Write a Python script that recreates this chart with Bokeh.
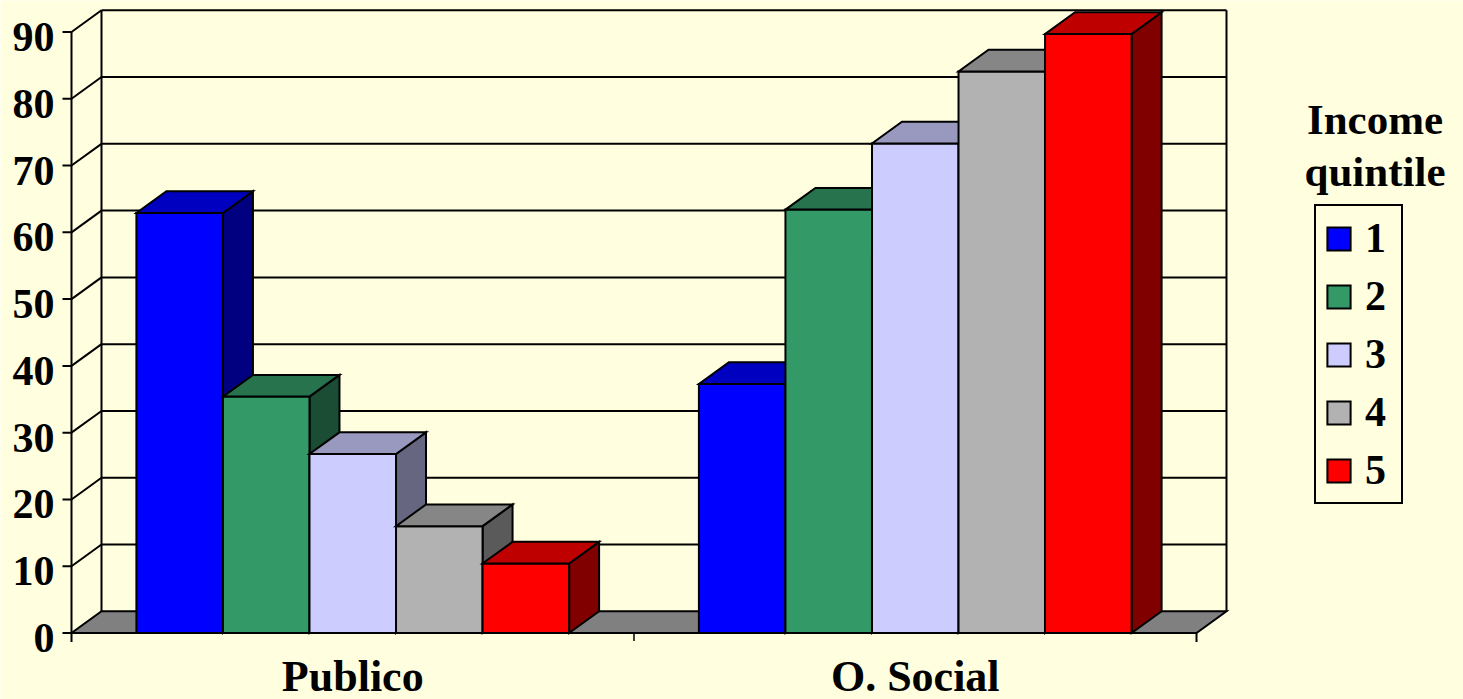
from bokeh.plotting import figure
from bokeh.models import Range1d, Legend, LegendItem, Label
from bokeh.core.properties import value
from bokeh.embed import file_html
from bokeh.resources import INLINE

# ---------------- data ----------------
categories = ["Publico", "O. Social"]
quintiles = ["1", "2", "3", "4", "5"]
q1 = [62.9, 37.3]
q2 = [35.4, 63.4]
q3 = [26.8, 73.3]
q4 = [16.0, 84.1]
q5 = [10.4, 89.7]
series = [q1, q2, q3, q4, q5]
y_ticks = [0, 10, 20, 30, 40, 50, 60, 70, 80, 90]
legend_title = ["Income", "quintile"]

# ---------------- style ----------------
BG = "#FFFFE0"
front_colors = ["#0000FF", "#339966", "#CCCCFF", "#B2B2B2", "#FF0000"]
top_colors = ["#0000C0", "#26734D", "#9999BF", "#868686", "#BF0000"]
side_colors = ["#000080", "#1A4D33", "#666680", "#5A5A5A", "#800000"]
FLOOR = "#808080"
FONT = "Liberation Serif"

W, H = 1463, 699
X0PX, Y0PX = 71.0, 632.5      # pixel of (x=0, y=0)
CATPX = 562.5                 # pixels per category
UNITPX = 6.678                # pixels per value unit
DEPTH_X_PX, DEPTH_Y_PX = 30.0, 21.7
GAP = 1.5                     # gap width relative to bar width
TXT_SHIFT = 13                # renderer baseline correction (px)

DX = DEPTH_X_PX / CATPX
DY = DEPTH_Y_PX / UNITPX
n_cat = len(categories)
n_ser = len(series)
bw = 1.0 / (n_ser + GAP)
ymax = y_ticks[-1]

p = figure(width=W, height=H, output_backend="svg", toolbar_location=None,
           x_range=Range1d(-X0PX / CATPX, (W - X0PX) / CATPX),
           y_range=Range1d(-(H - Y0PX) / UNITPX, Y0PX / UNITPX),
           min_border=0, min_border_left=0, min_border_right=0,
           min_border_top=0, min_border_bottom=0)
p.axis.visible = False
p.grid.visible = False
p.outline_line_color = None
p.background_fill_color = BG
p.border_fill_color = BG

LW = 2

# back wall: gridlines + frame
p.segment(x0=[DX] * (len(y_ticks) - 1), x1=[n_cat + DX] * (len(y_ticks) - 1),
          y0=[t + DY for t in y_ticks[1:]], y1=[t + DY for t in y_ticks[1:]],
          line_color="black", line_width=LW)
p.segment(x0=[DX, n_cat + DX], x1=[DX, n_cat + DX],
          y0=[DY, DY], y1=[ymax + DY, ymax + DY], line_color="black", line_width=LW)
# side wall diagonals
p.segment(x0=[0] * (len(y_ticks) - 1), x1=[DX] * (len(y_ticks) - 1),
          y0=y_ticks[1:], y1=[t + DY for t in y_ticks[1:]],
          line_color="black", line_width=LW)

# floor
p.patch(x=[0, n_cat, n_cat + DX, DX], y=[0, 0, DY, DY],
        fill_color=FLOOR, line_color="black", line_width=LW, line_join="miter")

# bars
front_renderers = []
for i, vals in enumerate(series):
    lefts = [c + GAP / 2 * bw + i * bw for c in range(n_cat)]
    rights = [l + bw for l in lefts]
    p.patches(xs=[[r, r + DX, r + DX, r] for r in rights],
              ys=[[0, DY, v + DY, v] for v in vals],
              fill_color=side_colors[i], line_color="black", line_width=LW, line_join="miter")
    fr = p.quad(left=lefts, right=rights, bottom=[0] * n_cat, top=vals,
                fill_color=front_colors[i], line_color="black", line_width=LW, line_join="miter")
    front_renderers.append(fr)
    p.patches(xs=[[l, r, r + DX, l + DX] for l, r in zip(lefts, rights)],
              ys=[[v, v, v + DY, v + DY] for v in vals],
              fill_color=top_colors[i], line_color="black", line_width=LW, line_join="miter")

# value axis
p.segment(x0=[0], x1=[0], y0=[0], y1=[ymax], line_color="black", line_width=LW)
p.segment(x0=[-9 / CATPX] * len(y_ticks), x1=[0] * len(y_ticks),
          y0=y_ticks, y1=y_ticks, line_color="black", line_width=LW)
p.text(x=[0] * len(y_ticks), y=y_ticks, text=[str(t) for t in y_ticks],
       x_offset=-17, y_offset=18 - TXT_SHIFT, text_align="right", text_baseline="alphabetic",
       text_font=value(FONT), text_font_style="bold", text_font_size="42px",
       text_color="black")

# category axis
p.segment(x0=[0, n_cat], x1=[0, n_cat], y0=[0, 0], y1=[-9 / UNITPX] * 2,
          line_color="black", line_width=LW)
p.segment(x0=list(range(1, n_cat)), x1=list(range(1, n_cat)),
          y0=[0] * (n_cat - 1), y1=[-8 / UNITPX] * (n_cat - 1),
          line_color="black", line_width=1.5)
p.segment(x0=[0], x1=[n_cat], y0=[0], y1=[0], line_color="black", line_width=LW)
p.text(x=[c + 0.5 for c in range(n_cat)], y=[0] * n_cat, text=categories,
       y_offset=56 - TXT_SHIFT, text_align="center", text_baseline="alphabetic",
       text_font=value(FONT), text_font_style="bold", text_font_size="44px",
       text_color="black")

# legend
legend = Legend(items=[LegendItem(label=q, renderers=[r]) for q, r in zip(quintiles, front_renderers)],
                location=(1314, 195), orientation="vertical",
                label_text_font=FONT, label_text_font_style="bold", label_text_font_size="42px",
                label_text_color="black", label_width=28,
                glyph_width=29, glyph_height=29, label_standoff=12, spacing=10, padding=8,
                border_line_color="black", border_line_width=2, border_line_alpha=1.0,
                background_fill_color=BG, background_fill_alpha=1.0, margin=0)
p.add_layout(legend)

for k, t in enumerate(legend_title):
    p.add_layout(Label(x=1374.5, y=H - (132.3 + 52 * k) + TXT_SHIFT, x_units="screen", y_units="screen",
                       text=t, text_align="center", text_baseline="alphabetic",
                       text_font=FONT, text_font_style="bold", text_font_size="43px",
                       text_color="black"))

open("out.html", "w").write(file_html(p, INLINE))
